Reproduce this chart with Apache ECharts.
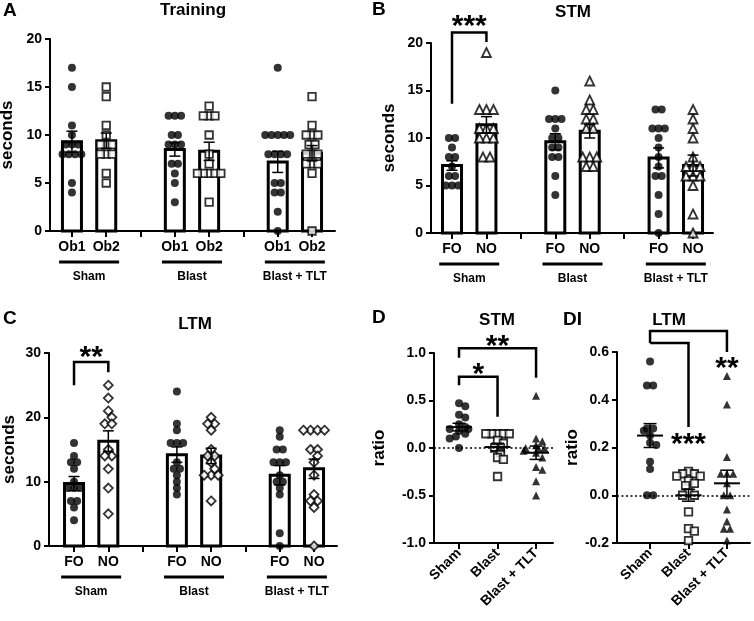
<!DOCTYPE html>
<html><head><meta charset="utf-8">
<script src="https://cdn.jsdelivr.net/npm/echarts@6/dist/echarts.min.js"></script>
<style>html,body{margin:0;padding:0;background:#fff}#c{width:754px;height:621px}</style>
</head><body><div id="c"></div>
<script>
// ================= DATA =================
const groupNames = ['Sham', 'Blast', 'Blast + TLT'];
const trainTicks = ['Ob1', 'Ob2'];
const objTicks = ['FO', 'NO'];

// A: Training (seconds)
const trainShamOb1 = [17, 15, 11, 10, 9, 9, 9, 8, 8, 8, 8, 5, 4];
const trainShamOb2 = [15, 14, 11, 10, 9, 9, 9, 8, 8, 8, 6, 5];
const trainBlastOb1 = [12, 12, 12, 10, 10, 9, 9, 9, 7, 7, 6, 5, 3];
const trainBlastOb2 = [13, 12, 12, 12, 10, 8, 7, 6, 6, 6, 6, 6, 3];
const trainTltOb1 = [17, 10, 10, 10, 10, 10, 8, 8, 8, 8, 5, 5, 4, 4, 2, 0];
const trainTltOb2 = [14, 11, 10, 10, 10, 9, 9, 8, 8, 8, 7, 7, 7, 6, 0];
const trainMean = [9.3, 9.4, 8.5, 8.3, 7.2, 8.1];
const trainSem = [1.1, 0.8, 0.7, 0.95, 1.1, 0.8];

// B: STM (seconds)
const stmShamFO = [10, 10, 9, 8, 8, 7, 6, 6, 5, 5, 5];
const stmShamNO = [19, 13, 13, 13, 11, 11, 11, 10, 10, 10, 8, 8];
const stmBlastFO = [15, 12, 12, 12, 11, 10, 10, 9, 9, 8, 8, 6, 4];
const stmBlastNO = [16, 14, 13, 13, 12, 12, 11, 11, 8, 8, 8, 7, 7];
const stmTltFO = [13, 13, 11, 11, 11, 10, 9, 8, 7, 6, 6, 4, 2, 0];
const stmTltNO = [13, 12, 11, 10, 8, 7, 7, 7, 6, 6, 6, 5, 2, 0];
const stmMean = [7.1, 11.4, 9.6, 10.7, 7.9, 7.1];
const stmSem = [0.5, 0.85, 0.85, 0.7, 1.05, 1.1];

// C: LTM (seconds)
const ltmShamFO = [16, 14, 13, 13, 12, 10, 9, 9, 9, 7, 7, 6, 4];
const ltmShamNO = [25, 23, 21, 20, 19, 19, 15, 14, 14, 12, 9, 5];
const ltmBlastFO = [24, 19, 18, 16, 16, 16, 13, 12, 12, 11, 10, 9, 8];
const ltmBlastNO = [20, 19, 19, 18, 15, 14, 14, 13, 12, 11, 11, 11, 7];
const ltmTltFO = [18, 17, 15, 15, 13, 13, 13, 11, 10, 10, 9, 8, 2, 0];
const ltmTltNO = [18, 18, 18, 18, 15, 15, 14, 13, 11, 8, 7, 7, 6, 0];
const ltmMean = [9.7, 16.3, 14.2, 14.0, 11.0, 12.0];
const ltmSem = [1.1, 1.6, 1.2, 1.2, 1.5, 1.5];

// D: DI STM (ratio)
const diStmSham = [0.47, 0.44, 0.35, 0.32, 0.25, 0.22, 0.2, 0.2, 0.18, 0.15, 0.12, 0.1, 0.0];
const diStmBlast = [0.15, 0.15, 0.15, 0.15, 0.15, 0.08, 0.05, 0, 0, -0.05, -0.1, -0.12, -0.3];
const diStmTlt = [0.55, 0.1, 0.07, 0.03, 0, 0, 0, -0.03, -0.05, -0.1, -0.2, -0.23, -0.35, -0.5];
const diStmMean = [0.22, 0.01, -0.05];
const diStmSem = [0.04, 0.04, 0.07];

// DI: LTM (ratio)
const diLtmSham = [0.56, 0.46, 0.46, 0.28, 0.28, 0.27, 0.25, 0.22, 0.21, 0.14, 0.11, 0, 0];
const diLtmBlast = [0.1, 0.09, 0.09, 0.08, 0.08, 0.06, 0.05, 0.04, 0.01, 0, 0, -0.07, -0.14, -0.15, -0.19];
const diLtmTlt = [0.5, 0.38, 0.16, 0.09, 0.09, 0.09, 0.05, 0, 0, -0.06, -0.11, -0.14, -0.14, -0.19];
const diLtmMean = [0.25, 0.0, 0.05];
const diLtmSem = [0.05, 0.025, 0.055];

// significance annotations: [x1, x2, top, leg1 end, leg2 end] and star text positions
const stmBrackets = [[0, 1, 21.1, 13.6, 20.1]];
const stmStars = [[0.5, 22.4, '***']];
const ltmBrackets = [[0, 1, 28.6, 25.0, 27.0]];
const ltmStars = [[0.5, 30.3, '**']];
const diStmBrackets = [[0, 2, 1.05, 0.95, 0.74], [0, 1, 0.75, 0.66, 0.33]];
const diStmStars = [[1, 1.137, '**'], [0.5, 0.842, '*']];
const diLtmBrackets = [[0, 2, 0.688, 0.638, 0.6], [0, 1, 0.638, 0.638, 0.286]];
const diLtmStars = [[2, 0.558, '**'], [1, 0.24, '***']];

// ================= LAYOUT =================
const FF = "'Liberation Sans', Arial, Helvetica, sans-serif";
const BLK = '#000';
const LAY = [
  {grid: {left: 50, top: 39, width: 285, height: 192}, x: [-0.64, 7.67], y: [0, 20, 5], name: 'seconds', gap: 34},
  {grid: {left: 431, top: 43, width: 282, height: 190}, x: [-0.61, 7.58], y: [0, 20, 5], name: 'seconds', gap: 33},
  {grid: {left: 49, top: 353, width: 288, height: 193}, x: [-0.73, 7.67], y: [0, 30, 10], name: 'seconds', gap: 31},
  {grid: {left: 434, top: 353, width: 119, height: 190}, x: [-0.65, 2.44], y: [-1, 1, 0.5], name: 'ratio', gap: 46},
  {grid: {left: 617, top: 352, width: 133, height: 191}, x: [-0.86, 2.6], y: [-0.2, 0.6, 0.2], name: 'ratio', gap: 36}
];

// beeswarm spreading (horizontal offsets so that points do not pile up)
function swarm(vals, pxY, size) {
  const idx = vals.map((v, i) => i).sort((a, b) => vals[b] - vals[a]);
  const placed = [];
  const off = new Array(vals.length).fill(0);
  const d = size * 0.78, s = d / 2;
  for (const i of idx) {
    const y = vals[i] * pxY;
    for (let k = 0; k < 60; k++) {
      const cand = k === 0 ? 0 : (k % 2 === 1 ? 1 : -1) * Math.ceil(k / 2) * s;
      if (placed.every(p => Math.hypot(p[0] - cand, p[1] - y) >= d * 0.92)) {
        off[i] = cand; placed.push([cand, y]); break;
      }
    }
  }
  const groups = {};
  vals.forEach((v, i) => { (groups[v] = groups[v] || []).push(i); });
  Object.values(groups).forEach(g => {
    if (g.length > 1) {
      const m = g.reduce((a, i) => a + off[i], 0) / g.length;
      g.forEach(i => { off[i] -= m; });
    }
  });
  return off;
}
function swarmData(vals, x, lay, size) {
  const pxX = lay.grid.width / (lay.x[1] - lay.x[0]);
  const pxY = lay.grid.height / (lay.y[1] - lay.y[0]);
  const off = swarm(vals, pxY, size);
  return vals.map((v, i) => [x + off[i] / pxX, v]);
}

function barRender(params, api) {
  const x = api.value(0), m = api.value(1);
  const b = api.coord([x, 0]), t = api.coord([x, m]);
  const w = 19;
  return {type: 'rect', shape: {x: b[0] - w / 2, y: t[1], width: w, height: b[1] - t[1]},
    style: {fill: '#fff', stroke: BLK, lineWidth: 3}};
}
function errRender(meanHalf, capHalf) {
  return function (params, api) {
    const x = api.value(0), m = api.value(1), s = api.value(2);
    const c = api.coord([x, m]), hi = api.coord([x, m + s]), lo = api.coord([x, m - s]);
    const st = {stroke: BLK, lineWidth: 1.5};
    const ch = [
      {type: 'line', shape: {x1: c[0], y1: hi[1], x2: c[0], y2: lo[1]}, style: st},
      {type: 'line', shape: {x1: c[0] - capHalf, y1: hi[1], x2: c[0] + capHalf, y2: hi[1]}, style: st},
      {type: 'line', shape: {x1: c[0] - capHalf, y1: lo[1], x2: c[0] + capHalf, y2: lo[1]}, style: st}
    ];
    if (meanHalf) ch.push({type: 'line', shape: {x1: c[0] - meanHalf, y1: c[1], x2: c[0] + meanHalf, y2: c[1]}, style: {stroke: BLK, lineWidth: 2}});
    return {type: 'group', children: ch};
  };
}
function bracketRender(params, api) {
  const x1 = api.value(0), x2 = api.value(1), top = api.value(2), l1 = api.value(3), l2 = api.value(4);
  const pts = [api.coord([x1, l1]), api.coord([x1, top]), api.coord([x2, top]), api.coord([x2, l2])];
  return {type: 'polyline', shape: {points: pts}, style: {stroke: BLK, lineWidth: 2.5, fill: null}};
}
function starRender(list) {
  return function (params, api) {
    const p = api.coord([api.value(0), api.value(1)]);
    return {type: 'text', x: p[0], y: p[1] + 7, style: {text: list[params.dataIndex][2], font: 'bold 30px ' + FF, fill: BLK, align: 'center', verticalAlign: 'middle'}};
  };
}
function groupRender(params, api) {
  const x1 = api.value(0), x2 = api.value(1);
  const a = api.coord([x1, 0]), b = api.coord([x2, 0]);
  const cx = (a[0] + b[0]) / 2, y0 = a[1];
  return {type: 'group', children: [
    {type: 'line', shape: {x1: cx - 30, y1: y0 + 31, x2: cx + 30, y2: y0 + 31}, style: {stroke: BLK, lineWidth: 3}},
    {type: 'text', x: cx, y: y0 + 46, style: {text: groupNames[params.dataIndex], font: 'bold 12px ' + FF, fill: BLK, align: 'center', verticalAlign: 'middle'}}
  ]};
}

const grids = [], xAxes = [], yAxes = [], series = [];
LAY.forEach((lay, i) => {
  grids.push(Object.assign({outerBoundsMode: 'none', containLabel: false}, lay.grid));
  const isRatio = i >= 3;
  const tickLabels = i === 0 ? trainTicks : objTicks;
  xAxes.push({
    type: 'value', gridIndex: i, min: lay.x[0], max: lay.x[1],
    splitLine: {show: false},
    axisLine: {show: true, onZero: false, lineStyle: {color: BLK, width: 2}},
    axisTick: {show: true, customValues: isRatio ? [0, 1, 2] : [0, 1, 2, 3, 4, 5, 6, 7], length: 6, lineStyle: {color: BLK, width: 2}},
    axisLabel: isRatio ? {
      customValues: [0, 1, 2], formatter: v => groupNames[Math.round(v)], rotate: 45,
      fontSize: 14, fontWeight: 'bold', fontFamily: FF, color: BLK, margin: 8
    } : {
      customValues: [0, 1, 3, 4, 6, 7], formatter: v => tickLabels[Math.round(v) % 3],
      fontSize: 14, fontWeight: 'bold', fontFamily: FF, color: BLK, margin: 9
    }
  });
  yAxes.push({
    type: 'value', gridIndex: i, min: lay.y[0], max: lay.y[1], interval: lay.y[2],
    splitLine: {show: false},
    axisLine: {show: true, onZero: false, lineStyle: {color: BLK, width: 2}},
    axisTick: {show: true, length: 5, lineStyle: {color: BLK, width: 2}},
    axisLabel: {fontSize: 14, fontWeight: 'bold', fontFamily: FF, color: BLK, margin: 8,
      formatter: v => isRatio ? (Math.abs(v) < 1e-9 ? '0.0' : v.toFixed(1)) : String(Math.round(v))},
    name: lay.name, nameLocation: 'middle', nameGap: lay.gap,
    nameTextStyle: {fontSize: 17, fontWeight: 'bold', fontFamily: FF, color: BLK}
  });
});

function addBarPanel(i, groups, means, sems, openSym, openSize, brackets, stars) {
  const lay = LAY[i];
  const pos = [0, 1, 3, 4, 6, 7];
  series.push({type: 'custom', xAxisIndex: i, yAxisIndex: i, z: 2, silent: true,
    data: pos.map((x, k) => [x, means[k]]), renderItem: barRender});
  let filled = [], open = [];
  groups.forEach((g, k) => {
    const d = swarmData(g, pos[k], lay, k % 2 === 0 ? 8 : openSize);
    if (k % 2 === 0) filled = filled.concat(d); else open = open.concat(d);
  });
  series.push({type: 'scatter', xAxisIndex: i, yAxisIndex: i, z: 3, clip: false, silent: true,
    symbol: 'circle', symbolSize: 8, itemStyle: {color: BLK}, data: filled});
  series.push({type: 'scatter', xAxisIndex: i, yAxisIndex: i, z: 3, clip: false, silent: true,
    symbol: openSym, symbolSize: openSize, itemStyle: {color: '#fff', borderColor: BLK, borderWidth: 1.8}, data: open});
  series.push({type: 'custom', xAxisIndex: i, yAxisIndex: i, z: 4, silent: true,
    data: pos.map((x, k) => [x, means[k], sems[k]]), renderItem: errRender(0, 5.5)});
  series.push({type: 'custom', xAxisIndex: i, yAxisIndex: i, z: 4, silent: true,
    data: [[0, 1], [3, 4], [6, 7]], renderItem: groupRender});
  if (brackets) {
    series.push({type: 'custom', xAxisIndex: i, yAxisIndex: i, z: 5, silent: true, data: brackets, renderItem: bracketRender});
    series.push({type: 'custom', xAxisIndex: i, yAxisIndex: i, z: 5, silent: true, data: stars.map(s => [s[0], s[1]]), renderItem: starRender(stars)});
  }
}
function addDiPanel(i, groups, means, sems, brackets, stars) {
  const lay = LAY[i];
  const syms = [
    {symbol: 'circle', size: 8, style: {color: BLK}},
    {symbol: 'rect', size: 7.5, style: {color: '#fff', borderColor: BLK, borderWidth: 1.8}},
    {symbol: 'triangle', size: 8, style: {color: BLK}}
  ];
  groups.forEach((g, k) => {
    const s = {type: 'scatter', xAxisIndex: i, yAxisIndex: i, z: 3, clip: false, silent: true,
      symbol: syms[k].symbol, symbolSize: syms[k].size, itemStyle: syms[k].style,
      data: swarmData(g, k, lay, syms[k].size)};
    if (k === 0) s.markLine = {silent: true, symbol: 'none', label: {show: false}, animation: false,
      lineStyle: {type: [2, 2.5], color: BLK, width: 1.5}, data: [{yAxis: 0}]};
    series.push(s);
  });
  series.push({type: 'custom', xAxisIndex: i, yAxisIndex: i, z: 4, silent: true,
    data: [0, 1, 2].map(k => [k, means[k], sems[k]]), renderItem: errRender(13, 6.5)});
  series.push({type: 'custom', xAxisIndex: i, yAxisIndex: i, z: 5, silent: true, data: brackets, renderItem: bracketRender});
  series.push({type: 'custom', xAxisIndex: i, yAxisIndex: i, z: 5, silent: true, data: stars.map(s => [s[0], s[1]]), renderItem: starRender(stars)});
}

addBarPanel(0, [trainShamOb1, trainShamOb2, trainBlastOb1, trainBlastOb2, trainTltOb1, trainTltOb2], trainMean, trainSem, 'rect', 7.5, null, null);
addBarPanel(1, [stmShamFO, stmShamNO, stmBlastFO, stmBlastNO, stmTltFO, stmTltNO], stmMean, stmSem, 'triangle', 9, stmBrackets, stmStars);
addBarPanel(2, [ltmShamFO, ltmShamNO, ltmBlastFO, ltmBlastNO, ltmTltFO, ltmTltNO], ltmMean, ltmSem, 'diamond', 9, ltmBrackets, ltmStars);
addDiPanel(3, [diStmSham, diStmBlast, diStmTlt], diStmMean, diStmSem, diStmBrackets, diStmStars);
addDiPanel(4, [diLtmSham, diLtmBlast, diLtmTlt], diLtmMean, diLtmSem, diLtmBrackets, diLtmStars);

function label(text, x, y, size, align) {
  return {type: 'text', x: x, y: y, silent: true,
    style: {text: text, font: 'bold ' + size + 'px ' + FF, fill: BLK, align: align || 'center', verticalAlign: 'middle'}};
}
const graphics = [
  label('A', 3, 11, 19, 'left'), label('Training', 193, 10, 17),
  label('B', 372, 10, 19, 'left'), label('STM', 573, 12, 17),
  label('C', 3, 319, 19, 'left'), label('LTM', 195, 324, 17),
  label('D', 372, 318, 19, 'left'), label('STM', 497, 320, 17),
  label('DI', 563, 320, 19, 'left'), label('LTM', 669, 320, 17)
];

const chart = echarts.init(document.getElementById('c'), null, {renderer: 'canvas'});
chart.setOption({
  animation: false,
  backgroundColor: '#fff',
  textStyle: {fontFamily: FF},
  grid: grids, xAxis: xAxes, yAxis: yAxes, series: series, graphic: graphics
});
</script></body></html>
